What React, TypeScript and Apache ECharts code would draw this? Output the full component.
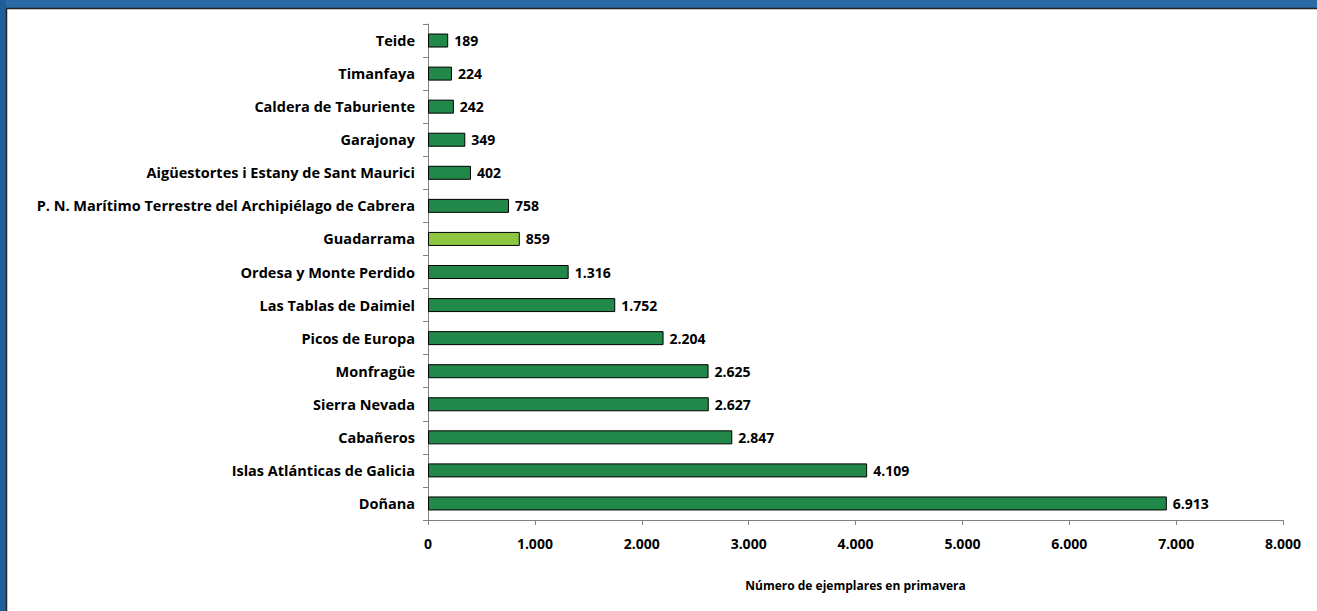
import React, { useEffect, useRef } from "react";
import * as echarts from "echarts";

const categories = [
  "Doñana",
  "Islas Atlánticas de Galicia",
  "Cabañeros",
  "Sierra Nevada",
  "Monfragüe",
  "Picos de Europa",
  "Las Tablas de Daimiel",
  "Ordesa y Monte Perdido",
  "Guadarrama",
  "P. N. Marítimo Terrestre del Archipiélago de Cabrera",
  "Aigüestortes i Estany de Sant Maurici",
  "Garajonay",
  "Caldera de Taburiente",
  "Timanfaya",
  "Teide",
];
const values = [6913, 4109, 2847, 2627, 2625, 2204, 1752, 1316, 859, 758, 402, 349, 242, 224, 189];
const highlight = "Guadarrama";
const axisName = "Número de ejemplares en primavera";
const xMax = 8000;
const xStep = 1000;

const fmt = (v: number) => String(Math.round(v)).replace(/\B(?=(\d{3})+(?!\d))/g, ".");

export default function App() {
  const ref = useRef<HTMLDivElement>(null);
  useEffect(() => {
    const chart = echarts.init(ref.current!, null, { renderer: "svg" });
    const font = "'Open Sans', sans-serif";
    chart.setOption({
      animation: false,
      backgroundColor: "#ffffff",
      graphic: [
        { type: "rect", shape: { x: 0, y: 0, width: 1317, height: 8 }, style: { fill: "#2a6aa7" }, z: -1 },
        { type: "rect", shape: { x: 0, y: 0, width: 6, height: 611 }, style: { fill: "#1f5d9b" }, z: -1 },
        { type: "line", shape: { x1: 6, y1: 8.5, x2: 1317, y2: 8.5 }, style: { stroke: "#222", lineWidth: 1.5 } },
        { type: "line", shape: { x1: 6.5, y1: 8, x2: 6.5, y2: 611 }, style: { stroke: "#222", lineWidth: 1.5 } },
      ],
      grid: { left: 428, right: 34, top: 24, bottom: 91, containLabel: false },
      xAxis: {
        type: "value",
        min: 0,
        max: xMax,
        interval: xStep,
        axisLine: { show: true, lineStyle: { color: "#808080" } },
        axisTick: { show: true, length: 5, lineStyle: { color: "#808080" } },
        splitLine: { show: false },
        axisLabel: { formatter: fmt, color: "#000", fontWeight: "bold", fontSize: 14, fontFamily: font, margin: 16 },
        name: axisName,
        nameLocation: "middle",
        nameGap: 59,
        nameTextStyle: { color: "#000", fontWeight: "bold", fontSize: 12, fontFamily: font },
      },
      yAxis: {
        type: "category",
        data: categories,
        axisLine: { show: true, lineStyle: { color: "#808080" } },
        axisTick: { show: true, length: 5, lineStyle: { color: "#808080" } },
        axisLabel: { color: "#000", fontWeight: "bold", fontSize: 14.5, fontFamily: font, margin: 13 },
      },
      series: [
        {
          type: "bar",
          data: values.map((v, i) => ({
            value: v,
            itemStyle: { color: categories[i] === highlight ? "#8cc63f" : "#21884a" },
          })),
          barWidth: 14,
          itemStyle: { borderColor: "#000", borderWidth: 1 },
          label: {
            show: true,
            position: "right",
            distance: 6,
            formatter: (p: any) => fmt(p.value),
            color: "#000",
            fontWeight: "bold",
            fontSize: 14,
            fontFamily: font,
          },
        },
      ],
    });
    return () => chart.dispose();
  }, []);
  return <div ref={ref} style={{ position: "fixed", left: 0, top: 0, width: 1317, height: 611 }} />;
}
